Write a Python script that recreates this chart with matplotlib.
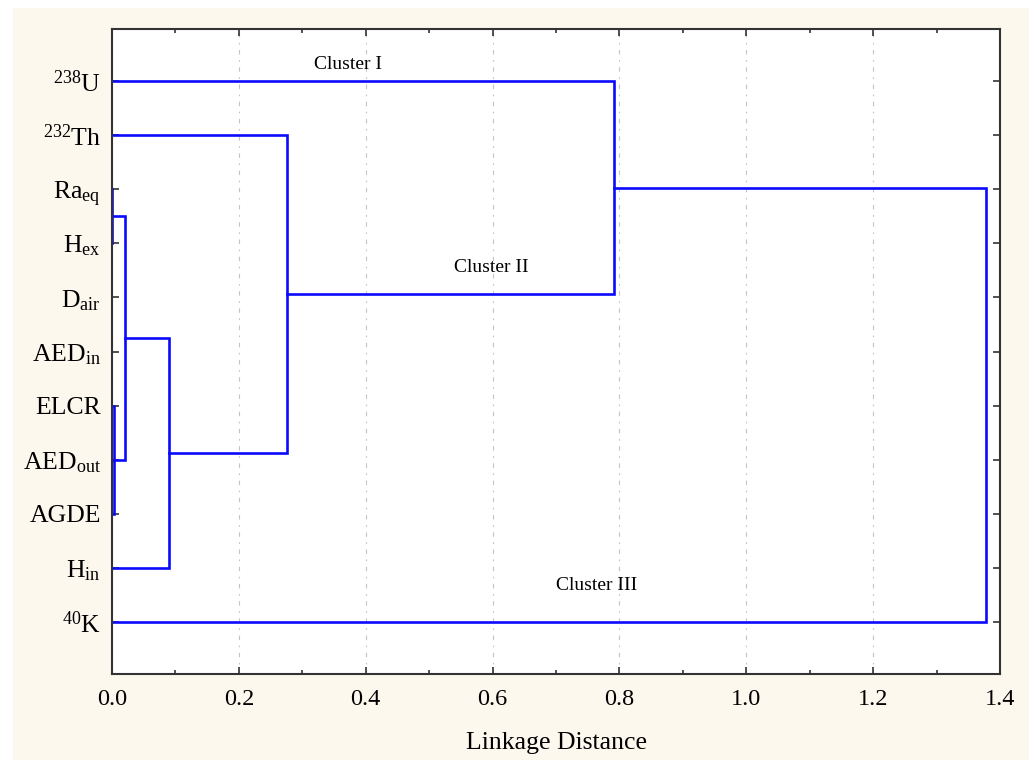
import numpy as np
import matplotlib.pyplot as plt
from matplotlib.patches import Rectangle

plt.rcParams['font.family'] = ['Liberation Serif', 'DejaVu Serif']
plt.rcParams['mathtext.fontset'] = 'custom'
plt.rcParams['mathtext.rm'] = 'Liberation Serif'
plt.rcParams['mathtext.it'] = 'Liberation Serif:italic'

# leaves, top to bottom
leaf_labels = [r'$^{238}$U', r'$^{232}$Th', r'Ra$_{\mathrm{eq}}$', r'H$_{\mathrm{ex}}$',
               r'D$_{\mathrm{air}}$', r'AED$_{\mathrm{in}}$', 'ELCR', r'AED$_{\mathrm{out}}$',
               'AGDE', r'H$_{\mathrm{in}}$', r'$^{40}$K']

# merges: child a, child b (leaf index or node id = 11 + merge index), linkage distance
merge_a = [2, 6, 11, 13, 1, 0, 16]
merge_b = [3, 8, 12, 9, 14, 15, 10]
merge_h = [0.0, 0.003, 0.0205, 0.090, 0.2756, 0.792, 1.378]

cluster_names = ['Cluster I', 'Cluster II', 'Cluster III']
cluster_x = [0.372, 0.598, 0.764]
cluster_y = [-0.31, 3.44, 9.33]

n = len(leaf_labels)
pos = list(range(n))
hgt = [0.0] * n

fig = plt.figure(figsize=(10.35, 7.6), dpi=100, facecolor='white')
fig.patches.append(Rectangle((13 / 1035, 0), 1016 / 1035, 752 / 760,
                             transform=fig.transFigure, facecolor='#fdf8ee',
                             edgecolor='none', zorder=-10))
ax = fig.add_axes([112 / 1035, 1 - 674 / 760, 888 / 1035, 645 / 760])
ax.set_facecolor('white')

blue = '#0a0aff'
for a, b, h in zip(merge_a, merge_b, merge_h):
    ya, yb = pos[a], pos[b]
    ax.plot([hgt[a], h, h, hgt[b]], [ya, ya, yb, yb], color=blue, lw=1.9,
            solid_joinstyle='miter', clip_on=False, zorder=2)
    pos.append((ya + yb) / 2)
    hgt.append(h)

for s, x, y in zip(cluster_names, cluster_x, cluster_y):
    ax.text(x, y, s, ha='center', va='center', fontsize=14)

ax.set_xlim(0, 1.4)
ax.set_ylim(n - 1 + 0.963, -0.963)
ax.set_xticks(np.arange(0, 1.41, 0.2))
ax.set_xticks(np.arange(0.1, 1.4, 0.2), minor=True)
ax.set_xticklabels(['%.1f' % v for v in np.arange(0, 1.41, 0.2)])
ax.set_yticks(range(n))
ax.set_yticklabels(leaf_labels)
ax.grid(axis='x', which='major', color='#c4c4c4', lw=0.8, linestyle=(0, (4, 5, 1.5, 5)))
ax.tick_params(axis='both', which='both', direction='in', top=True, right=True,
               color='#333333')
ax.tick_params(axis='x', which='major', length=5, width=1.2, labelsize=17.5, pad=11)
ax.tick_params(axis='x', which='minor', length=3, width=1.2)
ax.tick_params(axis='y', length=5, width=1.2, labelsize=18.5, pad=8)
for sp in ax.spines.values():
    sp.set_color('#333333')
    sp.set_linewidth(1.5)
    sp.set_zorder(3)
ax.set_xlabel('Linkage Distance', fontsize=18.5, labelpad=16)

fig.savefig('out.png', dpi=100, facecolor=fig.get_facecolor())
